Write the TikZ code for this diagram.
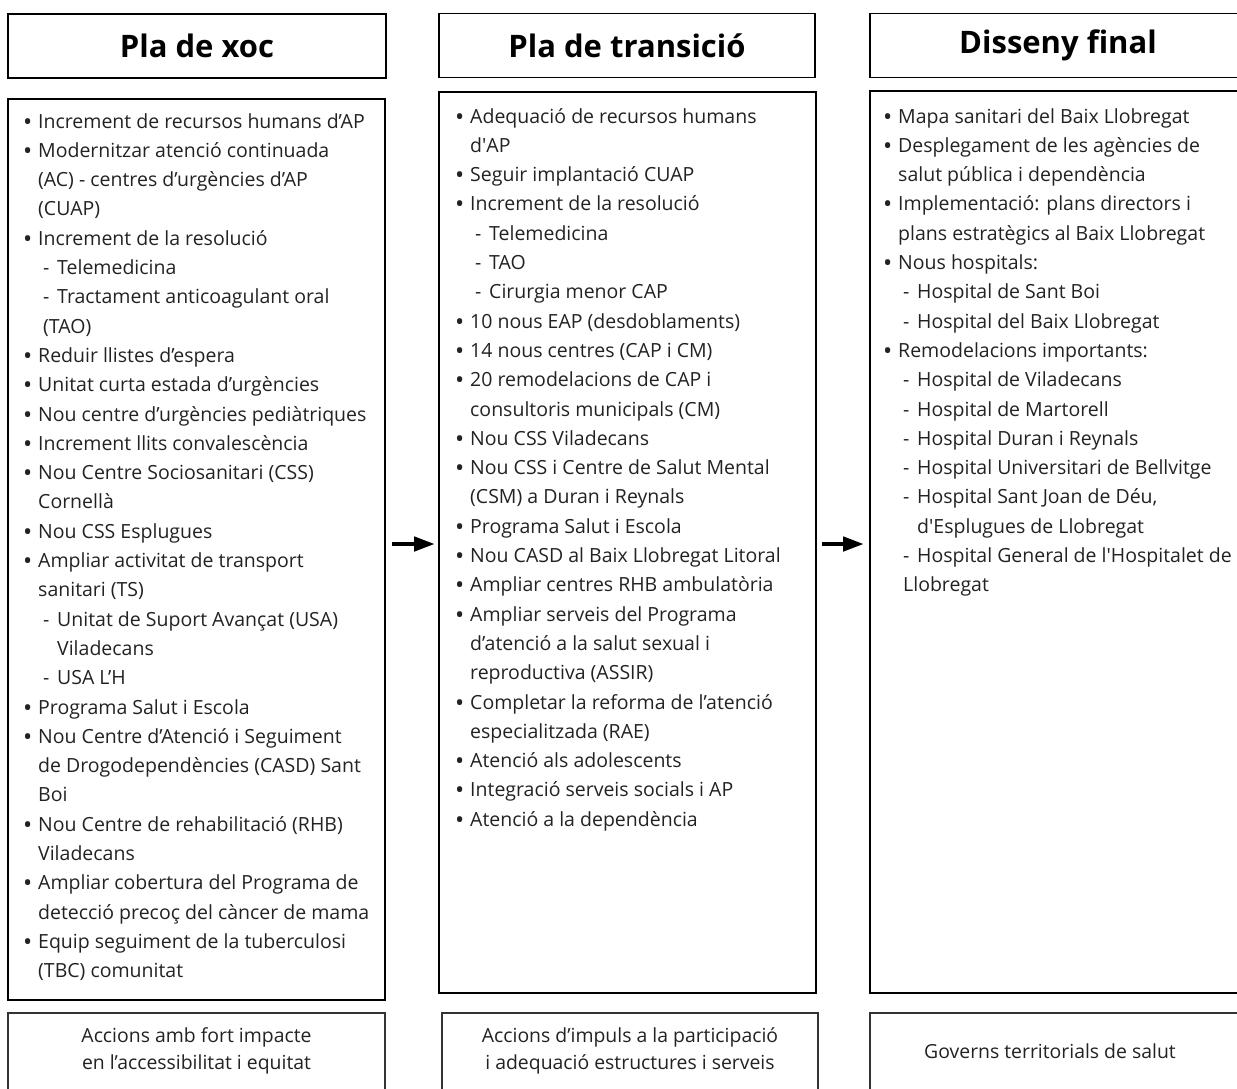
\documentclass[tikz,border=0pt]{standalone}
\usepackage{fontspec}
\setmainfont{Open Sans}
\usetikzlibrary{arrows.meta}
% list line types: bullet item, continuation, sub item, continuation under dash, continuation under sub text
\newcommand\itB[1]{\makebox[15pt][l]{\raisebox{-2pt}{\scalebox{1.25}{\textbullet}}}#1\par}
\newcommand\itC[1]{\hspace*{15pt}#1\par}
\newcommand\itS[1]{\hspace*{20pt}\makebox[14pt][l]{-}#1\par}
\newcommand\itD[1]{\hspace*{20pt}#1\par}
\newcommand\itT[1]{\hspace*{34pt}#1\par}
\newenvironment{itemlist}{\begin{minipage}[t]{420pt}\fontsize{19.5}{29.3}\selectfont\raggedright\parindent=0pt\parskip=0pt}{\end{minipage}}
\definecolor{ink}{HTML}{222222}
\begin{document}
\begin{tikzpicture}[x=1pt,y=-1pt,
  box/.style={draw=black, line width=1.3pt, rectangle, inner sep=0pt},
  hdr/.style={box, minimum height=64pt, font=\fontsize{31}{36}\selectfont\bfseries, text=black},
  content/.style={box},
  listtext/.style={inner sep=0pt, anchor=base west, text=ink},
  foot/.style={box, draw=black!80, minimum height=100pt},
  foottext/.style={inner sep=0pt, align=center, text=ink, font=\fontsize{19.4}{27}\selectfont},
  arr/.style={line width=4.5pt, -{Triangle[length=21pt,width=14pt]}}]
\useasboundingbox (0,0) rectangle (1237,1088);
\clip (0,0) rectangle (1237,1088);

% headers
\node[hdr, minimum width=378pt] (h1) at (197,46) {Pla de xoc};
\node[hdr, minimum width=376pt] (h2) at (627,45.5) {Pla de transició};
\node[hdr, minimum width=376pt] (h3) at (1058,45.5) {Disseny final};

% content boxes
\node[content, minimum width=377pt, minimum height=901pt] (c1) at (196.5,549.5) {};
\node[content, minimum width=377pt, minimum height=901pt] (c2) at (627.5,542.5) {};
\node[content, minimum width=376pt, minimum height=902pt] (c3) at (1058,542) {};

% footer boxes
\node[foot, minimum width=377pt] (f1) at (196.5,1063) {};
\node[foot, minimum width=376pt] (f2) at (630,1063) {};
\node[foot, minimum width=376pt] (f3) at (1058,1063) {};

% lists
\node[listtext] (l1) at (23,128) {\begin{itemlist}
\itB{Increment de recursos humans d’AP}
\itB{Modernitzar atenció continuada}
\itC{(AC) - centres d’urgències d’AP}
\itC{(CUAP)}
\itB{Increment de la resolució}
\itS{Telemedicina}
\itS{Tractament anticoagulant oral}
\itD{(TAO)}
\itB{Reduir llistes d’espera}
\itB{Unitat curta estada d’urgències}
\itB{Nou centre d’urgències pediàtriques}
\itB{Increment llits convalescència}
\itB{Nou Centre Sociosanitari (CSS)}
\itC{Cornellà}
\itB{Nou CSS Esplugues}
\itB{Ampliar activitat de transport}
\itC{sanitari (TS)}
\itS{Unitat de Suport Avançat (USA)}
\itT{Viladecans}
\itS{USA L’H}
\itB{Programa Salut i Escola}
\itB{Nou Centre d’Atenció i Seguiment}
\itC{de Drogodependències (CASD) Sant}
\itC{Boi}
\itB{Nou Centre de rehabilitació (RHB)}
\itC{Viladecans}
\itB{Ampliar cobertura del Programa de}
\itC{detecció precoç del càncer de mama}
\itB{Equip seguiment de la tuberculosi}
\itC{(TBC) comunitat}
\end{itemlist}};

\node[listtext] (l2) at (455,123) {\begin{itemlist}
\itB{Adequació de recursos humans}
\itC{d\textquotesingle AP}
\itB{Seguir implantació CUAP}
\itB{Increment de la resolució}
\itS{Telemedicina}
\itS{TAO}
\itS{Cirurgia menor CAP}
\itB{10 nous EAP (desdoblaments)}
\itB{14 nous centres (CAP i CM)}
\itB{20 remodelacions de CAP i}
\itC{consultoris municipals (CM)}
\itB{Nou CSS Viladecans}
\itB{Nou CSS i Centre de Salut Mental}
\itC{(CSM) a Duran i Reynals}
\itB{Programa Salut i Escola}
\itB{Nou CASD al Baix Llobregat Litoral}
\itB{Ampliar centres RHB ambulatòria}
\itB{Ampliar serveis del Programa}
\itC{d’atenció a la salut sexual i}
\itC{reproductiva (ASSIR)}
\itB{Completar la reforma de l’atenció}
\itC{especialitzada (RAE)}
\itB{Atenció als adolescents}
\itB{Integració serveis socials i AP}
\itB{Atenció a la dependència}
\end{itemlist}};

\node[listtext] (l3) at (883,123) {\begin{itemlist}
\itB{Mapa sanitari del Baix Llobregat}
\itB{Desplegament de les agències de}
\itC{salut pública i dependència}
\itB{Implementació: plans directors i}
\itC{plans estratègics al Baix Llobregat}
\itB{Nous hospitals:}
\itS{Hospital de Sant Boi}
\itS{Hospital del Baix Llobregat}
\itB{Remodelacions importants:}
\itS{Hospital de Viladecans}
\itS{Hospital de Martorell}
\itS{Hospital Duran i Reynals}
\itS{Hospital Universitari de Bellvitge}
\itS{Hospital Sant Joan de Déu,}
\itT{d\textquotesingle Esplugues de Llobregat}
\itS{Hospital General de l\textquotesingle Hospitalet de}
\itD{Llobregat}
\end{itemlist}};

% footer texts
\node[foottext] (t1) at (196.5,1051) {Accions amb fort impacte\\en l’accessibilitat i equitat};
\node[foottext] (t2) at (630,1051) {Accions d’impuls a la participació\\i adequació estructures i serveis};
\node[foottext] (t3) at (1050,1051) {Governs territorials de salut};

% arrows between the stages
\coordinate (a1s) at (392,544);
\coordinate (a1e) at (435,544);
\coordinate (a2s) at (822,544);
\coordinate (a2e) at (864,544);
\draw[arr] (a1s) -- (a1e);
\draw[arr] (a2s) -- (a2e);
\end{tikzpicture}
\end{document}
